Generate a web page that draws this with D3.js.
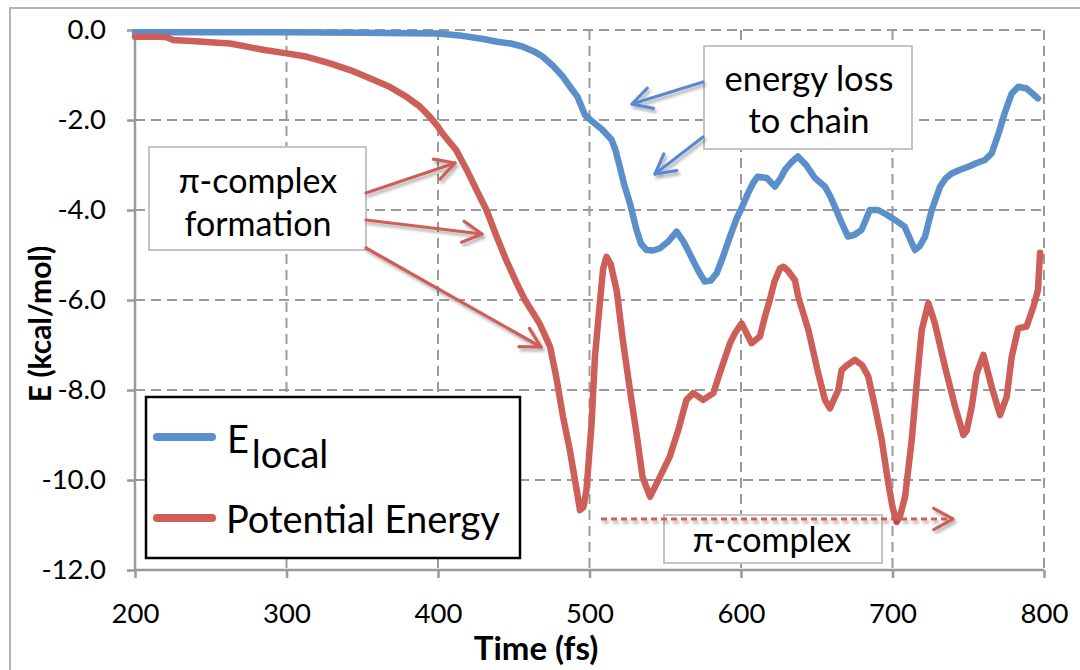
<!DOCTYPE html>
<html>
<head>
<meta charset="utf-8">
<script src="https://cdn.jsdelivr.net/npm/d3@7"></script>
<style>
  body { margin: 0; background: #fff; }
  text { font-family: Lato, "Open Sans", sans-serif; fill: #000; }
</style>
</head>
<body>
<div id="chart"></div>
<script>
// time (fs) / energy (kcal/mol)
const localTime = [200, 250, 300, 350, 380, 400, 416, 430, 439, 448, 456, 463, 469, 476, 482.5, 488, 492, 497, 502, 508,
    514.6, 517, 520, 523, 526.7, 531, 534, 537.7, 542, 546.5, 552, 557.5, 562, 566, 571, 576, 580, 584, 588, 592.7,
    597, 600.5, 604.6, 608, 611, 617, 622.4, 626, 629, 633, 637.6, 643, 648.8, 655.4, 659, 662, 666, 670.6, 675, 679.6,
    682, 685, 690.5, 696, 701.6, 708, 711, 714.8, 718, 721.5, 725.9, 731.4, 735, 739, 745, 750, 756, 761, 765.5, 770,
    774, 778.7, 783, 788.5, 792, 796]
const localE = [-0.05, -0.05, -0.05, -0.06, -0.07, -0.08, -0.13, -0.2, -0.26, -0.3, -0.37, -0.47, -0.59, -0.8, -1.04, -1.3, -1.48, -1.89, -2.04, -2.2,
    -2.44, -2.65, -3.04, -3.45, -3.85, -4.44, -4.75, -4.89, -4.9, -4.85, -4.7, -4.48, -4.7, -4.96, -5.3, -5.59, -5.57, -5.4, -5.05, -4.59,
    -4.2, -3.95, -3.63, -3.4, -3.26, -3.29, -3.48, -3.3, -3.11, -2.95, -2.81, -3.0, -3.29, -3.48, -3.7, -3.93, -4.25, -4.59, -4.55, -4.44,
    -4.25, -4.0, -4.0, -4.1, -4.22, -4.37, -4.6, -4.89, -4.8, -4.59, -4.0, -3.48, -3.3, -3.19, -3.1, -3.04, -2.95, -2.89, -2.74, -2.3,
    -1.85, -1.41, -1.26, -1.3, -1.4, -1.52]

const potTime = [200, 215, 221, 225, 240, 249.5, 262.7, 273.7, 284.5, 300, 313, 328.7, 342, 355, 368, 379, 388, 394.7, 400, 403,
    412, 419, 425.5, 432, 438.7, 445, 452, 457.4, 463, 467, 474, 478, 482.5, 487, 491.5, 493.7, 496, 498, 501.4, 503.6,
    507, 509, 511.3, 514, 518, 522, 526.7, 531, 535, 540, 546.5, 553, 558.6, 564, 568.5, 575, 581.7, 586, 592.7, 596,
    600.4, 607, 612.5, 615.8, 619, 622, 625.7, 628, 631, 635.6, 637.8, 644.5, 651, 655.4, 658.7, 664.2, 666.4, 670, 675.2, 680,
    684, 688.4, 692.9, 697.2, 700, 702.8, 705, 708.3, 712.7, 716, 719.3, 723.7, 728, 734.6, 741.3, 746.8, 749, 752.3, 755.6, 760,
    765.5, 771, 775.4, 778.7, 783, 788.5, 793, 796, 797.4]
const potE = [-0.15, -0.15, -0.16, -0.22, -0.25, -0.27, -0.3, -0.37, -0.44, -0.52, -0.59, -0.74, -0.89, -1.07, -1.26, -1.48, -1.7, -1.93, -2.15, -2.3,
    -2.67, -3.11, -3.56, -4.0, -4.59, -5.11, -5.63, -6.0, -6.3, -6.52, -7.04, -7.7, -8.59, -9.33, -10.22, -10.67, -10.6, -10.22, -8.74, -7.26,
    -6.0, -5.3, -5.04, -5.2, -5.8, -6.89, -8.0, -8.96, -9.93, -10.37, -9.93, -9.48, -8.89, -8.22, -8.07, -8.22, -8.07, -7.63, -6.96, -6.74,
    -6.52, -6.96, -6.81, -6.37, -6.0, -5.6, -5.3, -5.26, -5.35, -5.56, -5.93, -6.67, -7.63, -8.22, -8.41, -8.0, -7.56, -7.45, -7.33, -7.45,
    -7.7, -8.37, -9.11, -10.07, -10.6, -10.93, -10.8, -10.37, -9.11, -7.85, -6.67, -6.07, -6.52, -7.48, -8.37, -9.0, -8.9, -8.37, -7.63, -7.22,
    -7.93, -8.56, -8.15, -7.26, -6.63, -6.59, -6.15, -5.78, -4.95]

const xTicks = [200, 300, 400, 500, 600, 700, 800]
const yTicks = [0, -2, -4, -6, -8, -10, -12]

const width = 1080
const height = 670
const plotLeft = 135, plotRight = 1044, plotTop = 30, plotBottom = 570
const blue = "#5b8fc9"
const red = "#cd5f59"
const gridColor = "#9a9a9a"

const x = d3.scaleLinear().domain([200, 800]).range([plotLeft, plotRight])
const y = d3.scaleLinear().domain([-12, 0]).range([plotBottom, plotTop])

const svg = d3.select("#chart")
    .append("svg")
    .attr("width", width)
    .attr("height", height)
    .style("display", "block")

// shadow for the annotation arrows
svg.append("defs").append("filter")
    .attr("id", "shadow")
    .attr("x", "-20%").attr("y", "-20%").attr("width", "140%").attr("height", "140%")
    .append("feDropShadow")
    .attr("dx", 2).attr("dy", 3).attr("stdDeviation", 1.6)
    .attr("flood-color", "#000").attr("flood-opacity", 0.3)

// outer chart frame, runs off the right/bottom edge
svg.append("rect")
    .attr("x", 10).attr("y", 8)
    .attr("width", 1100).attr("height", 700)
    .attr("fill", "none")
    .attr("stroke", "#b3b3b3")
    .attr("stroke-width", 2)

// grid
const grid = svg.append("g").attr("stroke", gridColor).attr("stroke-width", 2).attr("stroke-dasharray", "10,6")
grid.selectAll(".hg")
    .data(yTicks.filter(d => d > -12))
    .join("line")
    .attr("x1", plotLeft).attr("x2", plotRight)
    .attr("y1", d => y(d)).attr("y2", d => y(d))
grid.selectAll(".vg")
    .data(xTicks.filter(d => d > 200))
    .join("line")
    .attr("x1", d => x(d)).attr("x2", d => x(d))
    .attr("y1", plotTop).attr("y2", plotBottom)

// axes
const yAxis = svg.append("g")
    .attr("transform", `translate(${plotLeft},0)`)
    .call(d3.axisLeft(y).tickValues(yTicks).tickSize(8).tickPadding(21).tickFormat(d => d.toFixed(1)))
const xAxis = svg.append("g")
    .attr("transform", `translate(0,${plotBottom})`)
    .call(d3.axisBottom(x).tickValues(xTicks).tickSize(8).tickPadding(25).tickFormat(d => d))

for (const ax of [yAxis, xAxis]) {
    ax.select(".domain").attr("stroke", gridColor).attr("stroke-width", 2.5)
    ax.selectAll(".tick line").attr("stroke", gridColor).attr("stroke-width", 2.5)
    ax.selectAll("text").style("font-size", "27.5px").attr("fill", "#000")
}
yAxis.select(".domain").attr("d", `M0,${plotTop}V${plotBottom}`)
xAxis.select(".domain").attr("d", `M${plotLeft},0H${plotRight}`)

// axis titles
svg.append("text")
    .attr("transform", "translate(51,324) rotate(-90)")
    .attr("text-anchor", "middle")
    .style("font-size", "30px")
    .style("font-weight", "bold")
    .text("E (kcal/mol)")
svg.append("text")
    .attr("x", 536).attr("y", 660)
    .attr("text-anchor", "middle")
    .style("font-size", "33px")
    .style("font-weight", "bold")
    .text("Time (fs)")

// series
const line = d3.line().x(d => x(d[0])).y(d => y(d[1]))
const series = [
    { name: "local", color: blue, pts: d3.zip(localTime, localE) },
    { name: "Potential Energy", color: red, pts: d3.zip(potTime, potE) }
]
svg.append("g").selectAll("path")
    .data(series)
    .join("path")
    .attr("d", d => line(d.pts))
    .attr("fill", "none")
    .attr("stroke", d => d.color)
    .attr("stroke-width", 6.5)
    .attr("stroke-linejoin", "round")
    .attr("stroke-linecap", "round")

// annotation boxes
const box = (x0, y0, w, h, lines, fs, cx, baselines) => {
    const g = svg.append("g")
    g.append("rect")
        .attr("x", x0).attr("y", y0).attr("width", w).attr("height", h)
        .attr("fill", "#fff").attr("stroke", "#c4c4c4").attr("stroke-width", 2)
    lines.forEach((t, i) => {
        g.append("text")
            .attr("x", cx).attr("y", baselines[i])
            .attr("text-anchor", "middle")
            .style("font-size", fs + "px")
            .text(t)
    })
}

const arrow = (x1, y1, x2, y2, color, dashed) => {
    const g = svg.append("g")
        .attr("stroke", color).attr("stroke-width", 3.2).attr("fill", "none")
        .attr("stroke-linecap", "round").attr("stroke-linejoin", "round")
        .attr("filter", "url(#shadow)")
    g.append("line")
        .attr("x1", x1).attr("y1", y1).attr("x2", x2).attr("y2", y2)
        .attr("stroke-dasharray", dashed ? "6,4" : null)
        .attr("stroke-linecap", dashed ? "butt" : "round")
    const a = Math.atan2(y2 - y1, x2 - x1)
    const len = 22, spread = 0.5
    const p1 = [x2 - len * Math.cos(a - spread), y2 - len * Math.sin(a - spread)]
    const p2 = [x2 - len * Math.cos(a + spread), y2 - len * Math.sin(a + spread)]
    g.append("path").attr("d", `M${p1}L${x2},${y2}L${p2}`)
}

// pi-complex formation
box(149, 147, 217, 103, ["π-complex", "formation"], 34, 258, [193, 236])
arrow(366, 193, 455, 163, red)
arrow(366, 220, 482, 234, red)
arrow(366, 248, 541, 347, red)

// energy loss to chain
box(704, 46, 208, 103, ["energy loss", "to chain"], 34.5, 809, [91, 133])
arrow(703, 82, 632, 104, "#5a89d4")
arrow(703, 137, 655, 174, "#5a89d4")

// pi-complex period
box(664, 515, 218, 48, ["π-complex"], 34, 772, [552])
arrow(601, 519, 953, 519, red, true)

// legend
const legend = svg.append("g")
legend.append("rect")
    .attr("x", 146).attr("y", 397).attr("width", 374).attr("height", 161)
    .attr("fill", "#fff").attr("stroke", "#000").attr("stroke-width", 2.5)
const items = legend.selectAll(".legend-item")
    .data(series)
    .join("g")
    .attr("class", "legend-item")
    .attr("transform", (d, i) => `translate(0, ${i === 0 ? 437 : 518})`)
items.append("line")
    .attr("x1", 157).attr("x2", 212)
    .attr("stroke", d => d.color)
    .attr("stroke-width", 8)
    .attr("stroke-linecap", "round")
const eText = items.filter((d, i) => i === 0).append("text")
    .attr("x", 227).attr("y", 16)
    .style("font-size", "38px")
eText.append("tspan").text("E")
eText.append("tspan").attr("dx", 3).attr("dy", 15).text("local")
items.filter((d, i) => i === 1).append("text")
    .attr("x", 226).attr("y", 15)
    .style("font-size", "38px")
    .text(d => d.name)
</script>
</body>
</html>
